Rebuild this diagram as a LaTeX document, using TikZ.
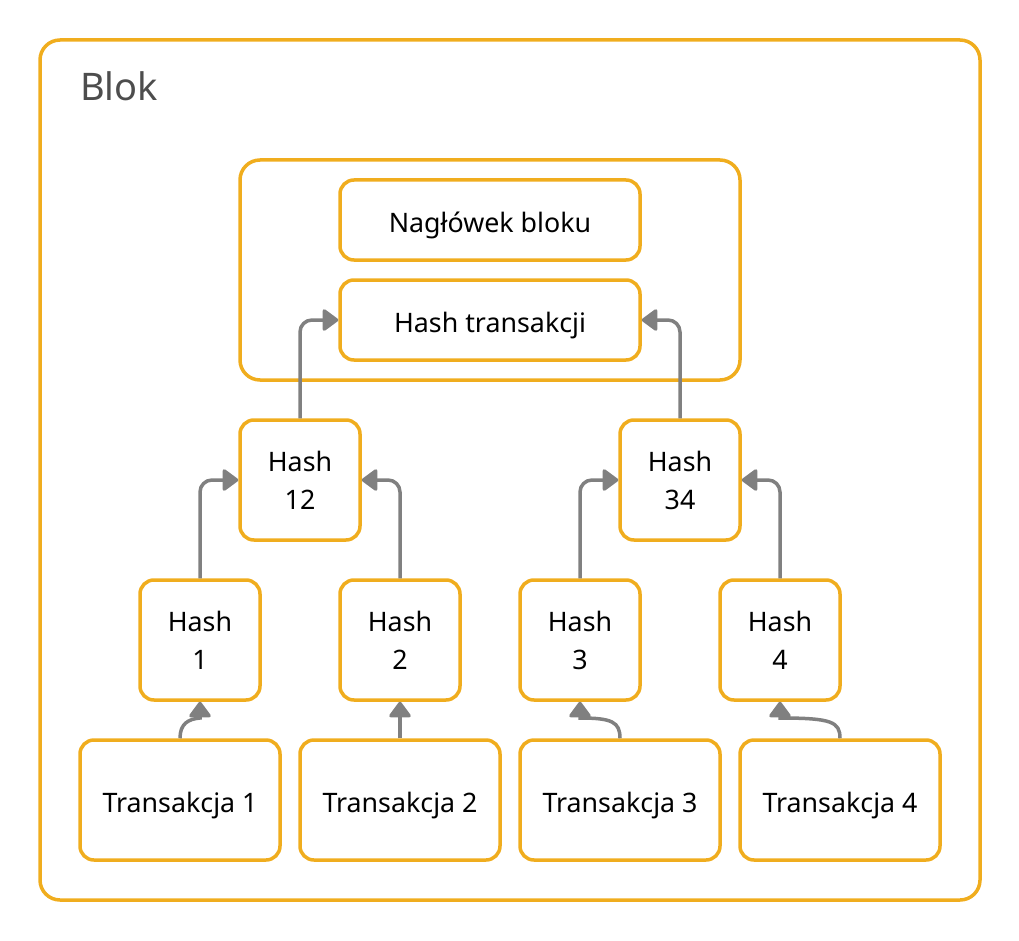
\documentclass[tikz,border=0pt]{standalone}
\usepackage{fontspec}
\setmainfont{Noto Sans}
\usetikzlibrary{arrows.meta,positioning}
\definecolor{boxorange}{RGB}{240,173,30}
\definecolor{arrowgray}{RGB}{128,128,128}
\definecolor{titlegray}{RGB}{77,77,77}
\begin{document}
\begin{tikzpicture}[x=1pt,y={(0,-1pt)},
  box/.style={draw=boxorange,line width=3.5pt,rounded corners=14pt,fill=white,
    inner sep=0pt,align=center,font=\fontsize{26.8}{38}\selectfont},
  oneline/.style={text height=25pt,text depth=0pt},
  conn/.style={draw=arrowgray,line width=3.5pt,-{Triangle[length=17pt,width=24pt,round]}},
  elbow/.style={conn,rounded corners=12pt}]
\useasboundingbox (0,0) rectangle (1019,941);
% outer block
\node[draw=boxorange,line width=3.5pt,rounded corners=20pt,minimum width=940pt,minimum height=860pt,inner sep=0pt] (blok) at (510,470) {};
\node[anchor=west,text=titlegray,font=\fontsize{38}{42}\selectfont,inner sep=0pt] (bloklabel) at (80,86) {Blok};
% header container
\node[draw=boxorange,line width=3.5pt,rounded corners=20pt,minimum width=500pt,minimum height=220pt,inner sep=0pt] (hdr) at (490,270) {};
\node[box,oneline,minimum width=300pt,minimum height=80pt] (nag) at (490,220) {Nagłówek bloku};
\node[box,oneline,minimum width=300pt,minimum height=80pt] (ht) at (490,320) {Hash transakcji};
% hash level 2
\node[box,minimum width=120pt,minimum height=120pt] (h12) at (300,480) {Hash\\12};
\node[box,minimum width=120pt,minimum height=120pt] (h34) at (680,480) {Hash\\34};
% hash level 1
\node[box,minimum width=120pt,minimum height=120pt] (h1) at (200,640) {Hash\\1};
\node[box,minimum width=120pt,minimum height=120pt] (h2) at (400,640) {Hash\\2};
\node[box,minimum width=120pt,minimum height=120pt] (h3) at (580,640) {Hash\\3};
\node[box,minimum width=120pt,minimum height=120pt] (h4) at (780,640) {Hash\\4};
% transactions
\node[box,oneline,minimum width=200pt,minimum height=120pt] (t1) at (180,800) {Transakcja 1};
\node[box,oneline,minimum width=200pt,minimum height=120pt] (t2) at (400,800) {Transakcja 2};
\node[box,oneline,minimum width=200pt,minimum height=120pt] (t3) at (620,800) {Transakcja 3};
\node[box,oneline,minimum width=200pt,minimum height=120pt] (t4) at (840,800) {Transakcja 4};
% elbow connectors
\draw[elbow] (h12.north) |- (ht.west);
\draw[elbow] (h34.north) |- (ht.east);
\draw[elbow] (h1.north) |- (h12.west);
\draw[elbow] (h2.north) |- (h12.east);
\draw[elbow] (h3.north) |- (h34.west);
\draw[elbow] (h4.north) |- (h34.east);
% curved connectors
\draw[conn] (t1.north) .. controls (180,724) and (188,719) .. (200,718) -- (h1.south);
\draw[conn] (t2.north) -- (h2.south);
\draw[conn] (t3.north) .. controls (620,722) and (612,718) .. (580,718) -- (h3.south);
\draw[conn] (t4.north) .. controls (840,722) and (832,718) .. (780,718) -- (h4.south);
\end{tikzpicture}
\end{document}
